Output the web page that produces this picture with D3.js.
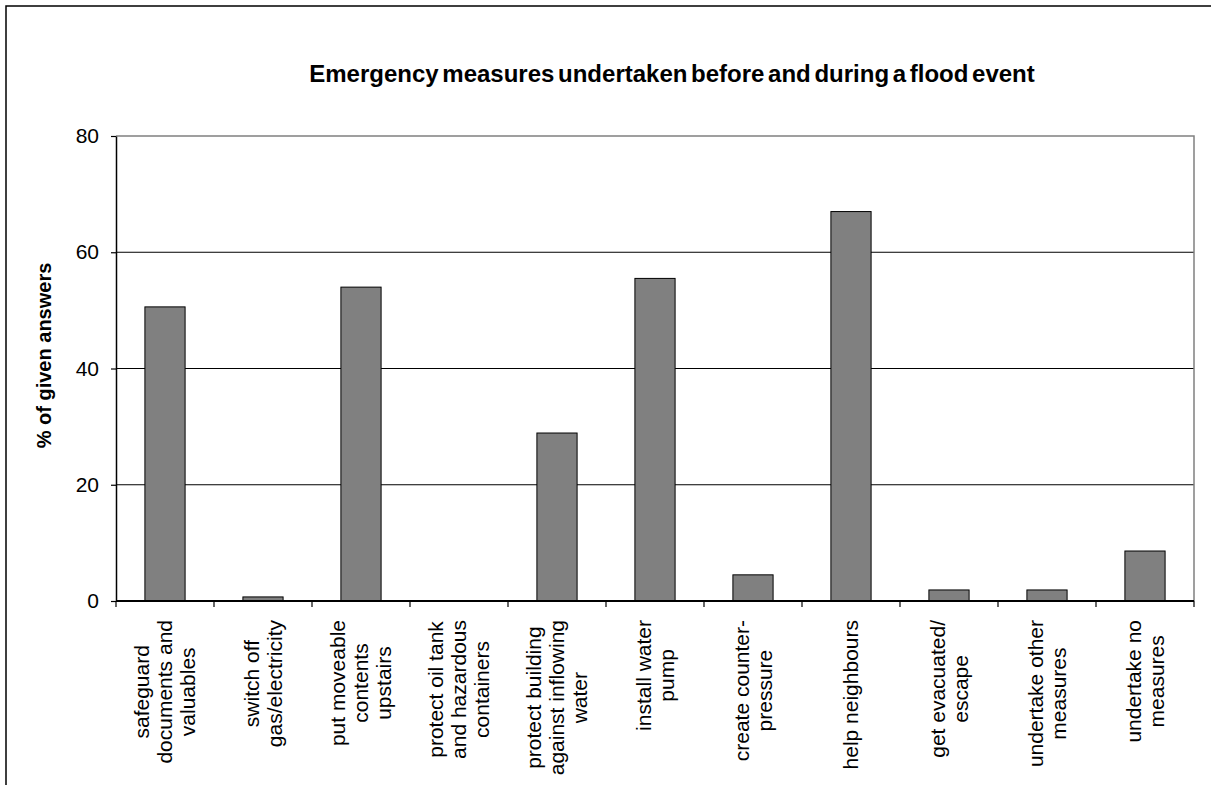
<!DOCTYPE html>
<html>
<head>
<meta charset="utf-8">
<script src="https://cdn.jsdelivr.net/npm/d3@7"></script>
<style>
  body { margin: 0; background: #fff; }
  text { font-family: Arial, "Liberation Sans", sans-serif; fill: #000; }
</style>
</head>
<body>
<svg id="chart" width="1211" height="785"></svg>
<script>
var categories = [
  ["safeguard", "documents and", "valuables"],
  ["switch off", "gas/electricity"],
  ["put moveable", "contents", "upstairs"],
  ["protect oil tank", "and hazardous", "containers"],
  ["protect building", "against inflowing", "water"],
  ["install water", "pump"],
  ["create counter-", "pressure"],
  ["help neighbours"],
  ["get evacuated/", "escape"],
  ["undertake other", "measures"],
  ["undertake no", "measures"]
];
var values = [50.6, 0.7, 54.0, 0, 28.9, 55.5, 4.5, 67.0, 1.9, 1.9, 8.6];
var yTicks = [0, 20, 40, 60, 80];
var title = "Emergency measures undertaken before and during a flood event";
var yTitle = "% of given answers";

var svg = d3.select("#chart");
var plotLeft = 116, plotRight = 1194, plotTop = 136, plotBottom = 601;

// outer frame, runs off the picture on the right and bottom
svg.append("rect")
  .attr("x", 6).attr("y", 6)
  .attr("width", 1400).attr("height", 1000)
  .attr("fill", "none").attr("stroke", "#000").attr("stroke-width", 1.5);

var keys = categories.map(function(d, i) { return i; });

var x = d3.scaleBand()
  .domain(keys)
  .range([plotLeft, plotRight])
  .paddingInner(0.59)
  .paddingOuter(0.295);

var y = d3.scaleLinear().domain([0, 80]).range([plotBottom, plotTop]);

// gridlines
svg.append("g").selectAll("line")
  .data(yTicks.filter(function(d) { return d > 0 && d < 80; }))
  .enter().append("line")
  .attr("x1", plotLeft).attr("x2", plotRight)
  .attr("y1", function(d) { return y(d); })
  .attr("y2", function(d) { return y(d); })
  .attr("stroke", "#000").attr("stroke-width", 1);

// plot area border (top and right)
svg.append("path")
  .attr("d", "M" + plotLeft + "," + y(80) + "H" + plotRight + "V" + y(0))
  .attr("fill", "none").attr("stroke", "#808080").attr("stroke-width", 1.5);

// bars
svg.append("g").selectAll("rect")
  .data(values)
  .enter().append("rect")
  .attr("x", function(d, i) { return x(i); })
  .attr("width", x.bandwidth())
  .attr("y", function(d) { return y(d); })
  .attr("height", function(d) { return y(0) - y(d); })
  .attr("fill", "#808080")
  .attr("stroke", "#000").attr("stroke-width", 1);

// y axis
var yAxis = svg.append("g")
  .attr("transform", "translate(" + plotLeft + ",0)")
  .call(d3.axisLeft(y).tickValues(yTicks).tickSize(5).tickPadding(12).tickSizeOuter(0));
yAxis.select(".domain").attr("stroke", "#000").attr("stroke-width", 1.5);
yAxis.selectAll(".tick line").attr("stroke", "#000").attr("stroke-width", 1.2);
yAxis.selectAll(".tick text")
  .style("font-size", "21px")
  .attr("font-family", null);

// x axis line and ticks at category boundaries
var step = x.step();
var x0 = x(0) - x.paddingOuter() * step;
svg.append("line")
  .attr("x1", plotLeft).attr("x2", plotRight)
  .attr("y1", plotBottom).attr("y2", plotBottom)
  .attr("stroke", "#000").attr("stroke-width", 2);
svg.append("g").selectAll("line")
  .data(d3.range(categories.length + 1))
  .enter().append("line")
  .attr("x1", function(k) { return x0 + k * step; })
  .attr("x2", function(k) { return x0 + k * step; })
  .attr("y1", plotBottom).attr("y2", plotBottom + 6)
  .attr("stroke", "#000").attr("stroke-width", 1.2);

// category labels, rotated, lines centred
var lineGap = 23;
var labels = svg.append("g").selectAll("g")
  .data(categories)
  .enter().append("g")
  .attr("transform", function(d, i) {
    return "translate(" + (x(i) + x.bandwidth() / 2) + "," + (plotBottom + 19) + ") rotate(-90)";
  });

labels.each(function(lines) {
  var g = d3.select(this);
  var n = lines.length;
  var texts = g.selectAll("text")
    .data(lines)
    .enter().append("text")
    .attr("text-anchor", "middle")
    .style("font-size", "21px")
    .attr("y", function(d, j) { return (j - (n - 1) / 2) * lineGap + 7; })
    .text(function(d) { return d; });
  var maxW = 0;
  texts.each(function() { maxW = Math.max(maxW, this.getComputedTextLength()); });
  texts.attr("x", -maxW / 2);
});

// title
svg.append("text")
  .attr("x", 672).attr("y", 82)
  .attr("text-anchor", "middle")
  .style("font-size", "24px")
  .style("font-weight", "bold")
  .style("word-spacing", "-3px")
  .text(title);

// y axis title
svg.append("text")
  .attr("transform", "translate(51," + ((plotTop + plotBottom) / 2 - 13) + ") rotate(-90)")
  .attr("text-anchor", "middle")
  .style("font-size", "20px")
  .style("font-weight", "bold")
  .text(yTitle);
</script>
</body>
</html>
